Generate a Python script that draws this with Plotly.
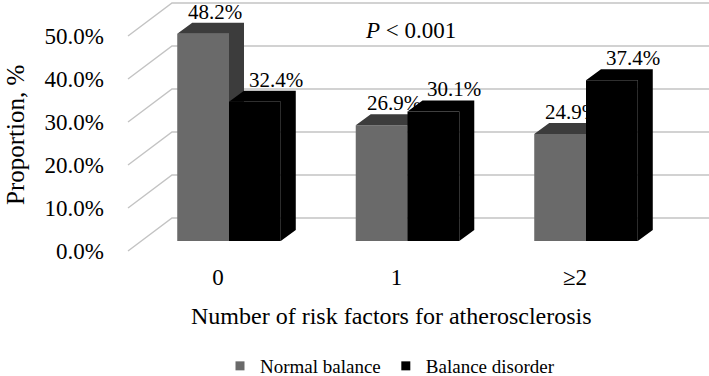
import plotly.graph_objects as go

categories = ["0", "1", "≥2"]
normal_balance = [48.2, 26.9, 24.9]
balance_disorder = [32.4, 30.1, 37.4]
y_ticks = [0, 10, 20, 30, 40, 50]
y_ticktext = ["0.0%", "10.0%", "20.0%", "30.0%", "40.0%", "50.0%"]
series_names = ["Normal balance", "Balance disorder"]

# ---- geometry (3D projection constants) ----
W, H = 709, 376
PLOT_L = 110
PLOT_BOTTOM = 259
PX_PER_CAT = 178.5
CAT0_PX = 229.0
PX_PER_PCT = 4.3
FRONT0_PX = 251.0
BAR_W = 0.29
BAR_BASE = 10 / PX_PER_PCT          # bars stand a little behind the front plane
DEPTH_DX = 15 / PX_PER_CAT          # bar depth offset
DEPTH_DY = 11 / PX_PER_PCT
WALL_DX = 44 / PX_PER_CAT           # floor depth (front plane -> back wall)
WALL_DY = 33 / PX_PER_PCT
FRONT_X = (128 - CAT0_PX) / PX_PER_CAT
LABEL_GAP = 2.6

GRAY = "#6a6a6a"
GRAY_DARK = "#3c3c3c"
BLACK = "#000000"
GRID = "#c3c3c3"
FONT = "Liberation Serif, 'Times New Roman', Times, serif"


def px_x(px):
    return (px - CAT0_PX) / PX_PER_CAT


def px_y(py):
    return (FRONT0_PX - py) / PX_PER_PCT


def paper_x(px):
    return (px - PLOT_L) / (W - PLOT_L)


def paper_y(py):
    return (PLOT_BOTTOM - py) / PLOT_BOTTOM


fig = go.Figure()

# grid: diagonals on the left side wall plus horizontal lines on the back wall
gx, gy = [], []
x_end = 3.0
for v in y_ticks:
    gx += [FRONT_X, FRONT_X + WALL_DX, x_end, None]
    gy += [v, v + WALL_DY, v + WALL_DY, None]
fig.add_trace(go.Scatter(x=gx, y=gy, mode="lines", line=dict(color=GRID, width=1.4),
                         hoverinfo="skip", showlegend=False))


def faces(values, side):
    front_x, front_y, top_x, top_y = [], [], [], []
    for i, v in enumerate(values):
        if side == 0:
            x0, x1 = i - BAR_W, i
        else:
            x0, x1 = i, i + BAR_W
        b = BAR_BASE
        t = b + v
        front_x += [x0, x1, x1, x0, x0, None]
        front_y += [b, b, t, t, b, None]
        top_x += [x0, x1, x1 + DEPTH_DX, x0 + DEPTH_DX, x0, None]
        top_y += [t, t, t + DEPTH_DY, t + DEPTH_DY, t, None]
        top_x += [x1, x1 + DEPTH_DX, x1 + DEPTH_DX, x1, x1, None]
        top_y += [b, b + DEPTH_DY, t + DEPTH_DY, t, b, None]
    return front_x, front_y, top_x, top_y


for side, (vals, fc, tc) in enumerate([(normal_balance, GRAY, GRAY_DARK),
                                        (balance_disorder, BLACK, BLACK)]):
    fx, fy, tx, ty = faces(vals, side)
    fig.add_trace(go.Scatter(x=fx, y=fy, mode="lines", fill="toself", fillcolor=fc,
                             line=dict(width=0, color=fc), hoverinfo="skip", showlegend=False))
    fig.add_trace(go.Scatter(x=tx, y=ty, mode="lines", fill="toself", fillcolor=tc,
                             line=dict(width=0, color=tc), hoverinfo="skip", showlegend=False))

# legend entries
for name, col in zip(series_names, [GRAY, BLACK]):
    fig.add_trace(go.Scatter(x=[None], y=[None], mode="markers", name=name,
                             marker=dict(symbol="square", size=9, color=col)))

# data labels
label_shift = [0.8, 1.4]
for side, vals in enumerate([normal_balance, balance_disorder]):
    for i, v in enumerate(vals):
        xc = i - BAR_W / 2 if side == 0 else i + BAR_W / 2
        fig.add_annotation(x=xc + DEPTH_DX * label_shift[side],
                           y=BAR_BASE + v + DEPTH_DY + LABEL_GAP,
                           text=f"{v:.1f}%", showarrow=False, xanchor="center", yanchor="middle",
                           font=dict(family=FONT, size=21, color="black"))

fig.add_annotation(x=px_x(410), y=px_y(30),
                   text="<i>P</i> < 0.001", showarrow=False, xanchor="center", yanchor="middle",
                   font=dict(family=FONT, size=23, color="black"))

# axis titles
fig.add_annotation(x=paper_x(391), y=paper_y(316), xref="paper", yref="paper",
                   text="Number of risk factors for atherosclerosis", showarrow=False,
                   xanchor="center", yanchor="middle",
                   font=dict(family=FONT, size=24, color="black"))
fig.add_annotation(x=paper_x(15), y=paper_y(135), xref="paper", yref="paper",
                   text="Proportion, %", showarrow=False, textangle=-90,
                   xanchor="center", yanchor="middle",
                   font=dict(family=FONT, size=25, color="black"))

fig.update_layout(
    width=W, height=H,
    margin=dict(l=PLOT_L, r=0, t=0, b=H - PLOT_BOTTOM, autoexpand=False),
    paper_bgcolor="white", plot_bgcolor="white",
    font=dict(family=FONT, color="black"),
    xaxis=dict(range=[px_x(PLOT_L), px_x(W)],
               showgrid=False, zeroline=False, showline=False, ticks="",
               tickvals=[i - 11 / PX_PER_CAT for i in range(len(categories))],
               ticktext=categories, tickfont=dict(family=FONT, size=23, color="black"),
               ticklabelstandoff=2, automargin=False),
    yaxis=dict(range=[px_y(PLOT_BOTTOM), px_y(0)],
               showgrid=False, zeroline=False, showline=False, ticks="",
               tickvals=y_ticks, ticktext=y_ticktext,
               tickfont=dict(family=FONT, size=23, color="black"),
               ticklabelstandoff=5, automargin=False),
    legend=dict(orientation="h", x=paper_x(220), y=paper_y(366),
                xanchor="left", yanchor="middle",
                font=dict(family=FONT, size=19, color="black"),
                itemwidth=30, bgcolor="rgba(0,0,0,0)"),
    showlegend=True,
)

fig.write_html("out.html", config={"displayModeBar": False},
               post_script="document.body.style.margin='0';")
